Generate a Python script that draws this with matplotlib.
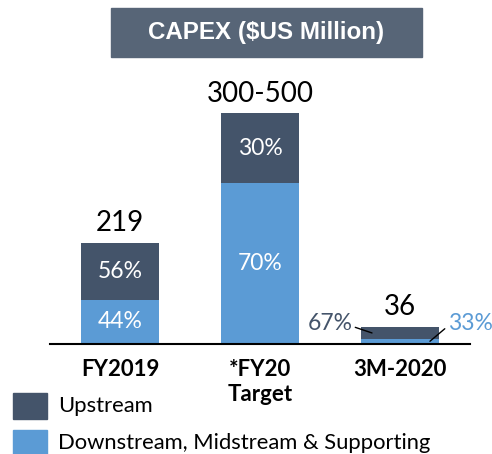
import matplotlib.pyplot as plt
from matplotlib.patches import Rectangle

categories = ['FY2019', '*FY20\nTarget', '3M-2020']
bar_totals = [219, 500, 36]
total_labels = ['219', '300-500', '36']
upstream_pct = [56, 30, 67]
downstream_pct = [44, 70, 33]

dark = '#44546A'
light = '#5B9BD5'

plt.rcParams['font.family'] = ['Lato', 'DejaVu Sans']

fig = plt.figure(figsize=(4.92, 4.54), dpi=100)
ax = fig.add_axes([50 / 492, 110 / 454, 420 / 492, 284 / 454])

x = list(range(len(categories)))
down_vals = [t * p / 100 for t, p in zip(bar_totals, downstream_pct)]
up_vals = [t * p / 100 for t, p in zip(bar_totals, upstream_pct)]

ax.bar(x, down_vals, width=0.557, color=light)
ax.bar(x, up_vals, width=0.557, bottom=down_vals, color=dark)

# percentages inside the two big bars
for i in range(2):
    ax.text(x[i], down_vals[i] / 2, f'{downstream_pct[i]}%', ha='center', va='center',
            color='white', fontsize=16.5)
    ax.text(x[i], down_vals[i] + up_vals[i] / 2, f'{upstream_pct[i]}%', ha='center',
            va='center', color='white', fontsize=16.5)

# totals above bars
for i in x:
    ax.annotate(total_labels[i], (x[i], bar_totals[i]), xytext=(0, 5), textcoords='offset points',
                ha='center', va='bottom', fontsize=20, color='black')

# small bar: labels with leader lines
i = 2
ax.annotate(f'{upstream_pct[i]}%', xy=(x[i] - 0.2, down_vals[i] + up_vals[i] * 0.5),
            xytext=(x[i] - 0.5, 45), ha='center', va='center', fontsize=16.5, color=dark,
            arrowprops=dict(arrowstyle='-', color='black', lw=1, shrinkA=0, shrinkB=0,
                            relpos=(1.0, 0.35)))
ax.annotate(f'{downstream_pct[i]}%', xy=(x[i] + 0.214, down_vals[i] * 0.5),
            xytext=(x[i] + 0.5, 45), ha='center', va='center', fontsize=16.5, color=light,
            arrowprops=dict(arrowstyle='-', color='black', lw=1, shrinkA=0, shrinkB=0,
                            relpos=(0.0, 0.35)))

ax.set_xlim(-0.5, 2.5)
ax.set_ylim(0, 616)
ax.set_xticks(x)
ax.set_xticklabels(categories, fontsize=16, fontweight='bold')
ax.tick_params(axis='x', length=0, pad=11)
ax.set_yticks([])
for s in ['left', 'right', 'top']:
    ax.spines[s].set_visible(False)
ax.spines['bottom'].set_linewidth(1.5)
ax.spines['bottom'].set_color('black')

# title box
fig.patches.append(Rectangle((111 / 492, 1 - 57 / 454), 311 / 492, 49 / 454,
                             transform=fig.transFigure, color='#576577'))
fig.text(266.5 / 492, 1 - 32.5 / 454, 'CAPEX ($US Million)', ha='center', va='center',
         color='white', fontsize=17.4, fontweight='bold', family='Liberation Sans')

# legend
legend_labels = ['Upstream', 'Downstream, Midstream & Supporting']
legend_colors = [dark, light]
for k, (lab, col) in enumerate(zip(legend_labels, legend_colors)):
    top = 393 + k * 37
    fig.patches.append(Rectangle((13 / 492, 1 - (top + 26) / 454), 34 / 492, 26 / 454,
                                 transform=fig.transFigure, color=col))
    fig.text(58 / 492, 1 - (top + 13) / 454, lab, ha='left', va='center', fontsize=15.8)

fig.savefig('out.png', dpi=100)
